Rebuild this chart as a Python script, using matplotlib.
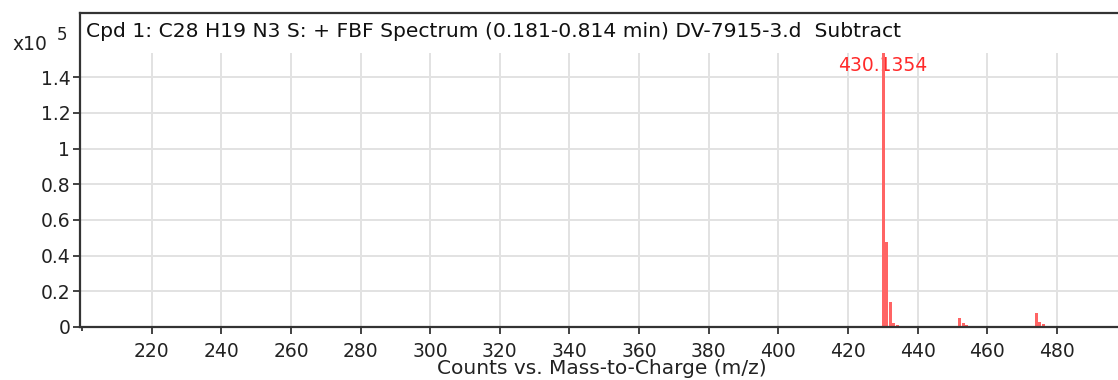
import matplotlib.pyplot as plt

plt.rcParams['font.family'] = ['DejaVu Sans']

# spectrum peaks (m/z, counts x10^5)
mz = [430.1354, 431.14, 432.14, 433.14, 434.14,
      452.12, 453.12, 454.12,
      474.10, 475.10, 476.10]
counts = [1.534, 0.478, 0.140, 0.024, 0.010,
          0.052, 0.020, 0.010,
          0.078, 0.030, 0.015]
xticks = [220, 240, 260, 280, 300, 320, 340, 360, 380, 400, 420, 440, 460, 480]
yticks = [0, 0.2, 0.4, 0.6, 0.8, 1, 1.2, 1.4]
ytick_labels = ['0', '0.2', '0.4', '0.6', '0.8', '1', '1.2', '1.4']
title = 'Cpd 1: C28 H19 N3 S: + FBF Spectrum (0.181-0.814 min) DV-7915-3.d  Subtract'
peak_label = '430.1354'

W, H = 1118, 380
fig = plt.figure(figsize=(W / 100, H / 100), dpi=100)
ax = fig.add_axes([80 / W, 1 - 327 / H, 1 - 80 / W, (327 - 13) / H])

ymax = 1.76
plot_top = max(counts)
x0, x1 = 199.4, 497.6
ax.set_xlim(x0, x1)
ax.set_ylim(0, ymax)

# grid only covers the plotting region under the title strip
ax.hlines(yticks[1:], x0, x1, color='#e2e2e2', lw=1.4, zorder=0)
ax.vlines(xticks, 0, plot_top, color='#e2e2e2', lw=1.4, zorder=0)

ax.bar(mz, counts, width=0.85, color='#ff6464', edgecolor='none', zorder=2)
ax.text(mz[0], 1.468, peak_label, color='#ff2a2a', fontsize=13.5,
        ha='center', va='center', zorder=1)

ax.set_xticks(xticks)
ax.set_xticks([200], minor=True)
ax.set_yticks(yticks)
ax.set_yticklabels(ytick_labels)
ax.tick_params(axis='both', labelsize=13.5, colors='#222222', direction='out',
               length=5, width=1.2)
ax.tick_params(axis='x', which='minor', length=3, width=1.2, color='#222222')
ax.tick_params(axis='x', pad=6)
ax.tick_params(axis='y', pad=2)

ax.spines['right'].set_visible(False)
for s in ['left', 'bottom', 'top']:
    ax.spines[s].set_linewidth(1.6)
    ax.spines[s].set_color('#333333')

ax.text(0.006, 0.94, title, transform=ax.transAxes, fontsize=14.6,
        color='#111111', ha='left', va='center')

fig.text(12 / W, 1 - 45 / H, 'x10', fontsize=13.5, color='#222222', va='center')
fig.text(57 / W, 1 - 35 / H, '5', fontsize=12, color='#222222', va='center')

fig.text(602 / W, 1 - 369 / H, 'Counts vs. Mass-to-Charge (m/z)', fontsize=14.5,
         color='#222222', ha='center', va='center')

fig.savefig('out.png', dpi=100)
